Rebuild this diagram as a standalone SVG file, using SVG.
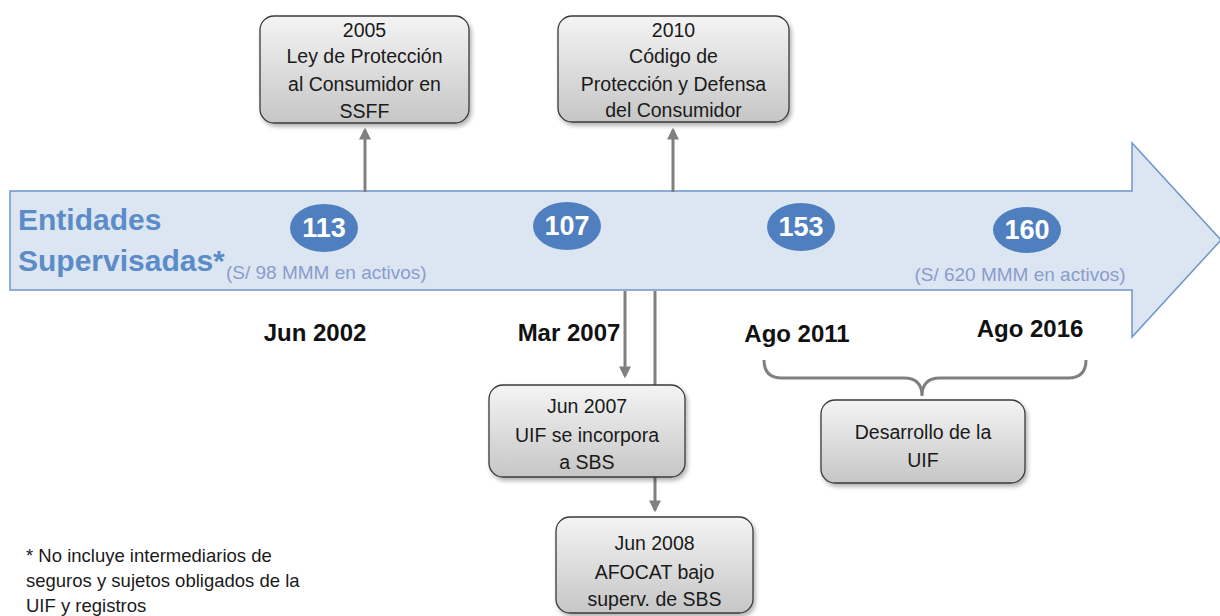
<svg xmlns="http://www.w3.org/2000/svg" width="1220" height="616" viewBox="0 0 1220 616">
<style>
.box{fill:url(#g);stroke:#3a3a3a;stroke-width:1.3;filter:url(#sh)}
.bt{font-family:"Liberation Sans",Arial,sans-serif;font-size:19.5px;fill:#1a1a1a;text-anchor:middle}
.num{font-family:"Liberation Sans",Arial,sans-serif;font-size:27px;font-weight:bold;fill:#fff;text-anchor:middle}
.date{font-family:"Liberation Sans",Arial,sans-serif;font-size:24px;font-weight:bold;fill:#111;text-anchor:middle}
.con{stroke:#808080;stroke-width:3;fill:none}
.ttl{font-family:"Liberation Sans",Arial,sans-serif;font-size:30px;font-weight:bold;fill:#5b8cc8}
.sub{font-family:"Liberation Sans",Arial,sans-serif;font-size:19px;fill:#8a9ccc}
.foot{font-family:"Liberation Sans",Arial,sans-serif;font-size:18.5px;fill:#1a1a1a}
</style>
<defs>
<linearGradient id="g" x1="0" y1="0" x2="0" y2="1"><stop offset="0" stop-color="#f4f4f4"/><stop offset="1" stop-color="#c6c6c6"/></linearGradient>
<filter id="sh" x="-10%" y="-10%" width="125%" height="130%"><feDropShadow dx="2" dy="3" stdDeviation="2" flood-color="#000" flood-opacity="0.3"/></filter>
<marker id="ah2" markerWidth="4" markerHeight="4" refX="3.2" refY="2" orient="auto" markerUnits="strokeWidth"><path d="M0,0 L4,2 L0,4 z" fill="#808080"/></marker>
</defs>
<rect width="1220" height="616" fill="#fff"/>
<g id="timeline">
<path d="M10,191 L1132,191 L1132,143 L1221,240 L1132,337 L1132,290 L10,290 Z" fill="#dce6f2" stroke="#6d96c9" stroke-width="1.5"/>
<text class="ttl" x="18" y="230">Entidades</text>
<text class="ttl" x="18" y="271">Supervisadas*</text>
<text class="sub" x="226" y="279">(S/ 98 MMM en activos)</text>
<text class="sub" x="1020" y="281" text-anchor="middle">(S/ 620 MMM en activos)</text>
</g>
<g id="connectors">
<line class="con" x1="365" y1="192" x2="365" y2="130" marker-end="url(#ah2)"/>
<line class="con" x1="673" y1="192" x2="673" y2="130" marker-end="url(#ah2)"/>
<line class="con" x1="625" y1="291" x2="625" y2="376" marker-end="url(#ah2)"/>
<line class="con" x1="655" y1="291" x2="655" y2="385"/>
<line class="con" x1="655" y1="477" x2="655" y2="510" marker-end="url(#ah2)"/>
<path class="con" d="M764,360 Q764,378 782,378 L904,378 Q922,378 922,396 Q922,378 940,378 L1068,378 Q1086,378 1086,360"/>
</g>
<g id="n113"><ellipse cx="324" cy="228" rx="34" ry="24" fill="#4f7fbf"/><text class="num" x="324" y="237">113</text></g>
<g id="n107"><ellipse cx="567" cy="226" rx="34" ry="24" fill="#4f7fbf"/><text class="num" x="567" y="235">107</text></g>
<g id="n153"><ellipse cx="801" cy="227" rx="34" ry="24" fill="#4f7fbf"/><text class="num" x="801" y="236">153</text></g>
<g id="n160"><ellipse cx="1027" cy="230" rx="34" ry="23" fill="#4f7fbf"/><text class="num" x="1027" y="239">160</text></g>
<g id="dates">
<text class="date" x="315" y="341">Jun 2002</text>
<text class="date" x="569" y="341">Mar 2007</text>
<text class="date" x="797" y="342">Ago 2011</text>
<text class="date" x="1030" y="337">Ago 2016</text>
</g>
<g id="box2005"><rect class="box" x="260" y="16" width="209" height="107" rx="14"/>
<text class="bt" x="364.5" y="37">2005</text><text class="bt" x="364.5" y="63">Ley de Protección</text><text class="bt" x="364.5" y="91">al Consumidor en</text><text class="bt" x="364.5" y="118">SSFF</text></g>
<g id="box2010"><rect class="box" x="558" y="16" width="231" height="106" rx="14"/>
<text class="bt" x="673.5" y="37">2010</text><text class="bt" x="673.5" y="63">Código de</text><text class="bt" x="673.5" y="91">Protección y Defensa</text><text class="bt" x="673.5" y="117">del Consumidor</text></g>
<g id="box2007"><rect class="box" x="489" y="385" width="196" height="92" rx="14"/>
<text class="bt" x="587" y="413">Jun 2007</text><text class="bt" x="587" y="442">UIF se incorpora</text><text class="bt" x="587" y="469">a SBS</text></g>
<g id="box2008"><rect class="box" x="556" y="517" width="197" height="96" rx="14"/>
<text class="bt" x="654.5" y="550">Jun 2008</text><text class="bt" x="654.5" y="579">AFOCAT bajo</text><text class="bt" x="654.5" y="606">superv. de SBS</text></g>
<g id="boxuif"><rect class="box" x="821" y="400" width="204" height="83" rx="14"/>
<text class="bt" x="923" y="439">Desarrollo de la</text><text class="bt" x="923" y="467">UIF</text></g>
<g id="footnote">
<text class="foot" x="26" y="562">* No incluye intermediarios de</text>
<text class="foot" x="26" y="587">seguros y sujetos obligados de la</text>
<text class="foot" x="26" y="612">UIF y registros</text>
</g>
</svg>
